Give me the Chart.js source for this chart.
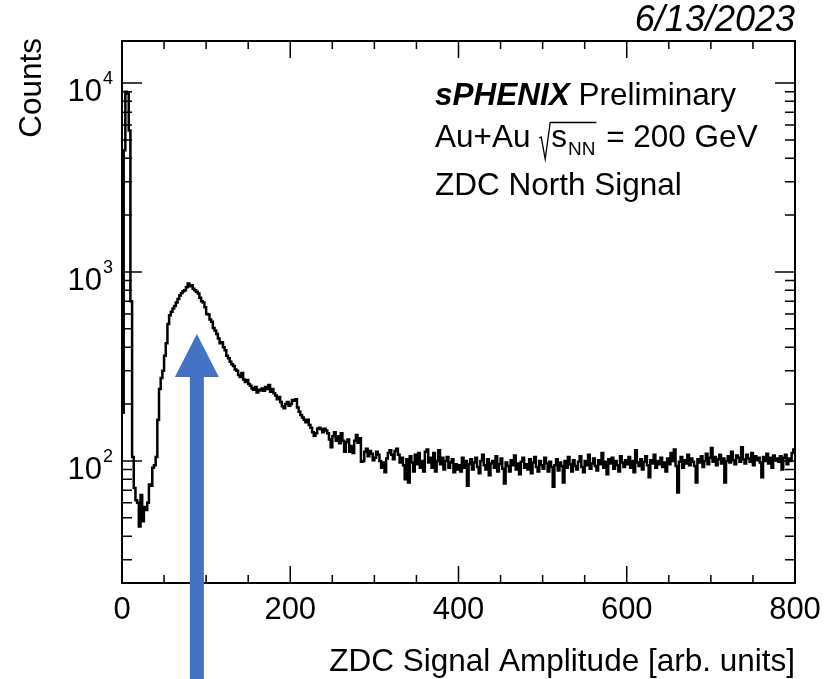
<!DOCTYPE html>
<html>
<head>
<meta charset="utf-8">
<script src="https://cdn.jsdelivr.net/npm/chart.js@4.4.0/dist/chart.umd.min.js"></script>
<style>
  html, body { margin: 0; padding: 0; background: #fff; }
  canvas { display: block; }
</style>
</head>
<body>
<canvas id="zdc" width="827" height="679"></canvas>
<script>
const FONT = '"Liberation Sans", Arial, Helvetica, sans-serif';

// ZDC North signal amplitude, 2-unit bins from 0 to 800
const binWidth = 2;
const counts = [
  180, 4400, 9000, 8800, 5600, 700, 105, 72, 62, 60,
  45, 66, 48, 57, 55, 60, 75, 74, 92, 95,
  105, 165, 240, 275, 300, 360, 420, 530, 590, 615,
  640, 660, 690, 720, 750, 775, 790, 800, 830, 870,
  840, 850, 815, 800, 785, 770, 730, 700, 690, 650,
  600, 595, 560, 545, 505, 490, 470, 445, 420, 425,
  400, 385, 360, 350, 335, 325, 318, 305, 300, 285,
  278, 292, 270, 262, 268, 255, 250, 242, 238, 246,
  230, 238, 236, 242, 235, 246, 240, 252, 232, 240,
  228, 222, 212, 218, 205, 195, 190, 200, 205, 196,
  200, 210, 208, 212, 192, 182, 175, 170, 165, 160,
  165, 155, 150, 142, 136, 140, 148, 150, 147, 142,
  148, 145, 140, 130, 118, 135, 142, 128, 135, 124,
  140, 128, 112, 126, 130, 112, 120, 110, 128, 137,
  125, 132, 99, 100, 112, 116, 106, 113, 109, 101,
  104, 112, 108, 100, 92, 98, 87, 103, 110, 114,
  108, 102, 113, 116, 108, 98, 104, 95, 80, 102,
  77, 106, 98, 88, 108, 96, 110, 92, 100, 88,
  112, 115, 98, 104, 92, 110, 88, 100, 114, 96,
  104, 90, 100, 105, 92, 98, 102, 87, 96, 90,
  95, 88, 104, 92, 100, 74, 96, 102, 90, 98,
  104, 93, 86, 100, 108, 95, 90, 102, 84, 97,
  100, 92, 106, 88, 96, 103, 91, 76, 98, 94,
  88, 101, 95, 107, 90, 97, 85, 99, 104, 92,
  96, 90, 102, 86, 98, 105, 93, 88, 100, 95,
  91, 104, 97, 88, 99, 93, 73, 95, 102, 89,
  98, 94, 77, 100, 92, 105, 96, 88, 101, 94,
  90, 99, 106, 93, 87, 100, 95, 108, 91, 97,
  103, 94, 89, 101, 96, 110, 92, 99, 85, 102,
  97, 104, 91, 100, 95, 88, 106, 98, 93, 101,
  96, 105, 92, 100, 87, 114, 98, 94, 102, 90,
  99, 106, 95, 82, 101, 97, 108, 92, 100, 96,
  104, 93, 98, 88, 103, 96, 110, 100, 115, 94,
  68, 99, 105, 92, 101, 97, 108, 95, 103, 99,
  94, 77, 102, 98, 106, 93, 100, 109, 96, 104,
  117, 99, 105, 95, 102, 108, 97, 103, 77, 100,
  106, 98, 112, 101, 96, 107, 104, 99, 118, 102,
  97, 108, 103, 99, 110, 95, 106, 101, 104, 98,
  82, 105, 100, 109, 97, 104, 92, 107, 101, 103,
  99, 106, 90, 104, 108, 96, 103, 100, 110, 115
];

const xRange = [0, 800];
const yRange = [22.6, 16680];
const xTicks = [0, 200, 400, 600, 800];
const xMinorStep = 50;
const yTicks = [100, 1000, 10000];

// arrow marking the single-neutron peak
const arrowX = 89;
const arrowTip = 470;

// one point per bin low edge, plus the closing edge
const points = counts.map((c, i) => ({ x: i * binWidth, y: c }));
points.push({ x: counts.length * binWidth, y: counts[counts.length - 1] });

const rootStyle = {
  id: 'rootStyle',
  afterDatasetsDraw(chart) {
    const { ctx, chartArea: a, scales: { x, y } } = chart;
    ctx.save();

    // frame
    ctx.strokeStyle = '#000';
    ctx.lineWidth = 2;
    ctx.strokeRect(a.left, a.top, a.right - a.left, a.bottom - a.top);

    // ticks on all four sides, pointing inwards
    ctx.lineWidth = 1.5;
    ctx.beginPath();
    for (let v = xRange[0]; v <= xRange[1]; v += xMinorStep) {
      const px = x.getPixelForValue(v);
      const len = xTicks.includes(v) ? 17 : 8;
      ctx.moveTo(px, a.bottom); ctx.lineTo(px, a.bottom - len);
      ctx.moveTo(px, a.top); ctx.lineTo(px, a.top + len);
    }
    for (let e = 1; e <= 4; e++) {
      for (let m = 1; m <= 9; m++) {
        const v = m * Math.pow(10, e);
        if (v < yRange[0] || v > yRange[1]) continue;
        const py = y.getPixelForValue(v);
        const len = m === 1 ? 20 : 10;
        ctx.moveTo(a.left, py); ctx.lineTo(a.left + len, py);
        ctx.moveTo(a.right, py); ctx.lineTo(a.right - len, py);
      }
    }
    ctx.stroke();

    ctx.fillStyle = '#000';
    ctx.textBaseline = 'alphabetic';

    // x tick labels
    ctx.font = `31px ${FONT}`;
    ctx.textAlign = 'center';
    xTicks.forEach((v) => ctx.fillText(String(v), x.getPixelForValue(v), 619));

    // y tick labels, 10^n
    yTicks.forEach((v) => {
      const py = y.getPixelForValue(v);
      const exp = String(Math.round(Math.log10(v)));
      ctx.font = `18px ${FONT}`;
      ctx.textAlign = 'right';
      ctx.fillText(exp, a.left - 9, py + 1);
      const ew = ctx.measureText(exp).width;
      ctx.font = `31px ${FONT}`;
      ctx.fillText('10', a.left - 9 - ew - 1, py + 18);
    });

    // axis titles
    ctx.font = `31.5px ${FONT}`;
    ctx.textAlign = 'right';
    ctx.fillText('ZDC Signal Amplitude [arb. units]', a.right, 671);
    ctx.save();
    ctx.translate(41, 38);
    ctx.rotate(-Math.PI / 2);
    ctx.fillText('Counts', 0, 0);
    ctx.restore();

    // date
    ctx.font = `italic 36px ${FONT}`;
    ctx.fillText('6/13/2023', a.right, 31);

    // labels
    ctx.textAlign = 'left';
    const lx = 435;
    ctx.font = `italic bold 31.5px ${FONT}`;
    ctx.fillText('sPHENIX', lx, 105);
    let w = ctx.measureText('sPHENIX').width;
    ctx.font = `31.5px ${FONT}`;
    ctx.fillText(' Preliminary', lx + w, 105);

    ctx.fillText('Au+Au ', lx, 147);
    w = lx + ctx.measureText('Au+Au ').width;
    const sx = w + 12;
    ctx.fillText('s', sx, 147);
    const sw = ctx.measureText('s').width;
    ctx.font = `19px ${FONT}`;
    ctx.fillText('NN', sx + sw + 1, 155);
    const nw = ctx.measureText('NN').width;
    const end = sx + sw + 1 + nw;
    ctx.lineWidth = 1.3;
    ctx.beginPath();
    ctx.moveTo(w, 138);
    ctx.lineTo(w + 2, 137);
    ctx.lineTo(w + 6, 159);
    ctx.lineTo(w + 11, 122.5);
    ctx.lineTo(end + 1, 122.5);
    ctx.stroke();
    ctx.font = `31.5px ${FONT}`;
    ctx.fillText(' = 200 GeV', end + 2, 147);

    ctx.fillText('ZDC North Signal', lx, 195);

    // arrow
    const ax = x.getPixelForValue(arrowX);
    const ay = y.getPixelForValue(arrowTip);
    ctx.fillStyle = '#4472C4';
    ctx.beginPath();
    ctx.moveTo(ax, ay);
    ctx.lineTo(ax + 22, ay + 43);
    ctx.lineTo(ax + 7, ay + 43);
    ctx.lineTo(ax + 7, chart.height);
    ctx.lineTo(ax - 7, chart.height);
    ctx.lineTo(ax - 7, ay + 43);
    ctx.lineTo(ax - 22, ay + 43);
    ctx.closePath();
    ctx.fill();

    ctx.restore();
  },
};

new Chart(document.getElementById('zdc'), {
  type: 'line',
  data: {
    datasets: [
      {
        data: points,
        borderColor: '#000',
        borderWidth: 2.5,
        stepped: true,
        fill: false,
        pointRadius: 0,
        borderJoinStyle: 'miter',
        borderCapStyle: 'butt',
      },
    ],
  },
  options: {
    responsive: false,
    devicePixelRatio: 1,
    animation: false,
    layout: {
      padding: { left: 122, right: 32, top: 41, bottom: 96 },
    },
    plugins: {
      legend: { display: false },
      tooltip: { enabled: false },
    },
    scales: {
      x: {
        type: 'linear',
        display: false,
        bounds: 'data',
        min: xRange[0],
        max: xRange[1],
      },
      y: {
        type: 'logarithmic',
        display: false,
        bounds: 'data',
        min: yRange[0],
        max: yRange[1],
      },
    },
  },
  plugins: [rootStyle],
});
</script>
</body>
</html>
